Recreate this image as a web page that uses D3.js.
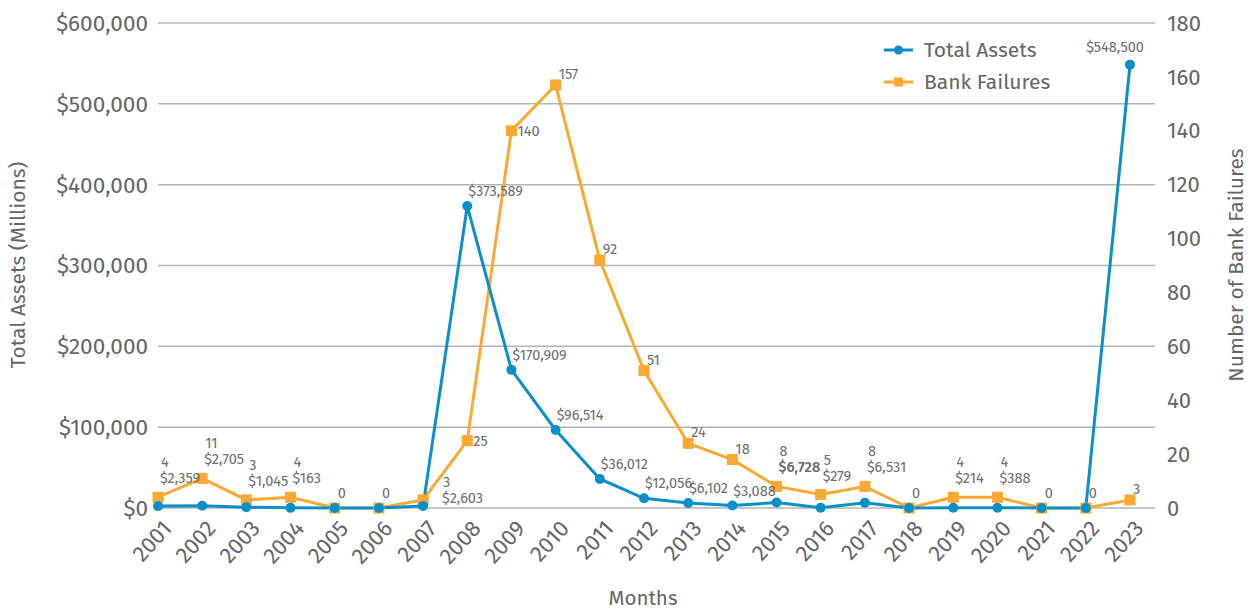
<!DOCTYPE html>
<html><head><meta charset="utf-8">
<script src="https://cdn.jsdelivr.net/npm/d3@7"></script>
<style>
html,body{margin:0;padding:0;background:#fff;}
svg{display:block;font-family:"Fira Sans","Open Sans","Noto Sans",sans-serif;}
</style></head>
<body><svg id="c" width="1248" height="609"></svg>
<script>
const years = ["2001","2002","2003","2004","2005","2006","2007","2008","2009","2010","2011","2012","2013","2014","2015","2016","2017","2018","2019","2020","2021","2022","2023"];
const totalAssets = [2359,2705,1045,163,0,0,2603,373589,170909,96514,36012,12056,6102,3088,6728,279,6531,0,214,388,0,0,548500];
const bankFailures = [4,11,3,4,0,0,3,25,140,157,92,51,24,18,8,5,8,0,4,4,0,0,3];
const leftTicks = [0,100000,200000,300000,400000,500000,600000];
const rightTicks = [0,20,40,60,80,100,120,140,160,180];
const seriesNames = ["Total Assets","Bank Failures"];

const blue = "#0a90c8", orange = "#fba933", textCol = "#666666", gridCol = "#b4b4b4";
const svg = d3.select("#c");
const x = d3.scalePoint().domain(years).range([158,1130]);
const yL = d3.scaleLinear().domain([0,600000]).range([508,23]);
const yR = d3.scaleLinear().domain([0,180]).range([508,23]);
const fmt = d3.format("$,");

// gridlines
svg.append("g").selectAll("line").data(leftTicks).join("line")
  .attr("x1",158).attr("x2",1155).attr("y1",d=>yL(d)).attr("y2",d=>yL(d))
  .attr("stroke",gridCol).attr("stroke-width",1.5);

// left axis labels
svg.append("g").selectAll("text").data(leftTicks).join("text")
  .attr("x",148).attr("y",d=>yL(d)).attr("dy","0.35em").attr("text-anchor","end")
  .attr("font-size",22.5).attr("fill",textCol).text(d=>fmt(d));
// right axis labels
svg.append("g").selectAll("text").data(rightTicks).join("text")
  .attr("x",1167).attr("y",d=>yR(d)).attr("dy","0.35em").attr("text-anchor","start")
  .attr("font-size",22).attr("fill",textCol).text(d=>d);
// x labels
svg.append("g").selectAll("text").data(years).join("text")
  .attr("transform",d=>`translate(${x(d)+9},${524}) rotate(-48)`)
  .attr("dy","0.35em").attr("text-anchor","end")
  .attr("font-size",22.5).attr("fill",textCol).text(d=>d);

// axis titles
svg.append("text").attr("transform","translate(25,265) rotate(-90)").attr("text-anchor","middle")
  .attr("font-size",21).attr("fill",textCol).text("Total Assets (Millions)");
svg.append("text").attr("transform","translate(1243,265) rotate(-90)").attr("text-anchor","middle")
  .attr("font-size",21).attr("fill",textCol).text("Number of Bank Failures");
svg.append("text").attr("x",643).attr("y",605).attr("text-anchor","middle")
  .attr("font-size",20.5).attr("fill",textCol).text("Months");

// lines
const lineA = d3.line().x((d,i)=>x(years[i])).y(d=>yL(d));
const lineF = d3.line().x((d,i)=>x(years[i])).y(d=>yR(d));
svg.append("path").attr("d",lineF(bankFailures)).attr("fill","none").attr("stroke",orange).attr("stroke-width",3);
svg.append("path").attr("d",lineA(totalAssets)).attr("fill","none").attr("stroke",blue).attr("stroke-width",3);

svg.append("g").selectAll("rect").data(bankFailures).join("rect")
  .attr("x",(d,i)=>x(years[i])-5.5).attr("y",d=>yR(d)-5.5).attr("width",11).attr("height",11).attr("fill",orange);
svg.append("g").selectAll("circle").data(totalAssets).join("circle")
  .attr("cx",(d,i)=>x(years[i])).attr("cy",d=>yL(d)).attr("r",5).attr("fill",blue);

// data labels
const lbl = svg.append("g").attr("font-size",14.5).attr("fill","#6e6e6e");
years.forEach((yr,i)=>{
  const px = x(yr), yo = yR(bankFailures[i]), yb = yL(totalAssets[i]);
  const a = totalAssets[i], f = bankFailures[i];
  const prev = i>0 ? bankFailures[i-1] : null, next = i<years.length-1 ? bankFailures[i+1] : null;
  const rising = prev!==null && next!==null && prev < f && f < next;
  const stacked = a>0 && Math.abs(yb-yo) < 35;
  if (stacked) {
    const bx = rising ? px+19 : px+2, by = rising ? yo-13 : yo-30;
    lbl.append("text").attr("x",bx+1).attr("y",by).text(f);
    lbl.append("text").attr("x",bx).attr("y",by+16).text(fmt(a))
      .attr("font-weight", a>6600 && a<6800 ? 600 : null);
  } else {
    const dy = rising ? 5 : (f>0 ? -6 : -10);
    lbl.append("text").attr("x",px+(rising?6:3)).attr("y",yo+dy).text(f);
    if (a>0) {
      const last = i===years.length-1;
      lbl.append("text").attr("x",last?px-15:px+1).attr("y",yb-(last?13:10))
        .attr("text-anchor",last?"middle":"start").text(fmt(a));
    }
  }
});

// legend
const lg = svg.append("g");
const lc = [blue, orange];
seriesNames.forEach((n,i)=>{
  const ly = 50 + i*32;
  lg.append("line").attr("x1",884).attr("x2",913).attr("y1",ly).attr("y2",ly).attr("stroke",lc[i]).attr("stroke-width",3);
  if (i===0) lg.append("circle").attr("cx",898.5).attr("cy",ly).attr("r",4.5).attr("fill",lc[i]);
  else lg.append("rect").attr("x",894).attr("y",ly-4.5).attr("width",9).attr("height",9).attr("fill",lc[i]);
  lg.append("text").attr("x",924).attr("y",ly).attr("dy","0.35em").attr("font-size",21).attr("fill",textCol).text(n);
});
</script></body></html>
